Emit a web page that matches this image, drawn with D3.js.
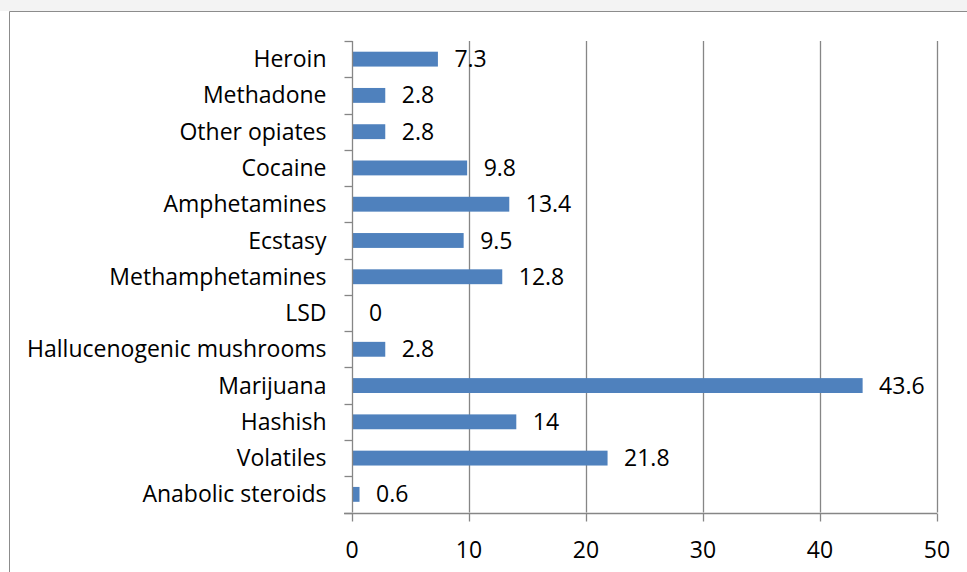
<!DOCTYPE html>
<html><head><meta charset="utf-8">
<script src="https://cdn.jsdelivr.net/npm/d3@7"></script>
<style>
html,body{margin:0;padding:0;background:#fff;}
svg{display:block;}
text{font-family:"Open Sans",sans-serif;fill:#000;}
</style></head>
<body>
<svg id="chart" width="967" height="572"></svg>
<script>
const categories = ["Heroin","Methadone","Other opiates","Cocaine","Amphetamines","Ecstasy","Methamphetamines","LSD","Hallucenogenic mushrooms","Marijuana","Hashish","Volatiles","Anabolic steroids"];
const values = [7.3,2.8,2.8,9.8,13.4,9.5,12.8,0,2.8,43.6,14,21.8,0.6];
const xTicks = [0,10,20,30,40,50];

const svg = d3.select("#chart");
svg.append("rect").attr("x",0).attr("y",0).attr("width",967).attr("height",11).attr("fill","#f3f3f3");
svg.append("path").attr("d","M9.5,572 V11.5 H967").attr("fill","none").attr("stroke","#8c8c8c").attr("stroke-width",1);

const pL = 352, pR = 937, pT = 41, pB = 512.5;
const x = d3.scaleLinear().domain([0,50]).range([pL,pR]);
const y = d3.scaleBand().domain(categories).range([pT,pB]).paddingInner(0.59).paddingOuter(0.295);
const yb = d3.scaleBand().domain(categories).range([pT,pB]);

const fs = 23;
// grid
svg.append("g").selectAll("line").data(xTicks.slice(1)).join("line")
  .attr("x1",d=>Math.round(x(d))+0.5).attr("x2",d=>Math.round(x(d))+0.5)
  .attr("y1",pT).attr("y2",pB).attr("stroke","#868686").attr("stroke-width",1.3);

// bars
svg.append("g").selectAll("rect").data(values).join("rect")
  .attr("x",x(0)+0.5).attr("y",(d,i)=>y(categories[i]))
  .attr("width",d=>x(d)-x(0)).attr("height",y.bandwidth())
  .attr("fill","#4f81bd");

// value labels
svg.append("g").selectAll("text").data(values).join("text")
  .attr("x",d=>x(d)+17).attr("y",(d,i)=>y(categories[i])+y.bandwidth()/2)
  .attr("dy","0.35em").attr("font-size",fs).text(d=>d);

// y axis
const yAxis = svg.append("g").attr("transform",`translate(${Math.round(pL)+0.5},0)`);
yAxis.append("line").attr("y1",pT).attr("y2",pB).attr("stroke","#868686").attr("stroke-width",1.3);
const bounds = categories.map(c=>yb(c)).concat([pB]);
yAxis.selectAll("line.t").data(bounds).join("line").attr("class","t")
  .attr("x1",-8).attr("x2",0).attr("y1",d=>Math.round(d)+0.5).attr("y2",d=>Math.round(d)+0.5)
  .attr("stroke","#868686").attr("stroke-width",1.3);
yAxis.selectAll("text").data(categories).join("text")
  .attr("x",-26).attr("y",d=>yb(d)+yb.bandwidth()/2).attr("dy","0.35em")
  .attr("text-anchor","end").attr("font-size",fs).text(d=>d);

// x axis
const xAxis = svg.append("g").attr("transform",`translate(0,${Math.round(pB)+0.5})`);
xAxis.append("line").attr("x1",pL-8).attr("x2",pR).attr("stroke","#868686").attr("stroke-width",1.3);
xAxis.selectAll("line.t").data(xTicks).join("line").attr("class","t")
  .attr("x1",d=>Math.round(x(d))+0.5).attr("x2",d=>Math.round(x(d))+0.5).attr("y1",0).attr("y2",8)
  .attr("stroke","#868686").attr("stroke-width",1.3);
xAxis.selectAll("text").data(xTicks).join("text")
  .attr("x",d=>x(d)).attr("y",36).attr("dy","0.35em").attr("text-anchor","middle")
  .attr("font-size",fs).text(d=>d);
</script>
</body></html>
